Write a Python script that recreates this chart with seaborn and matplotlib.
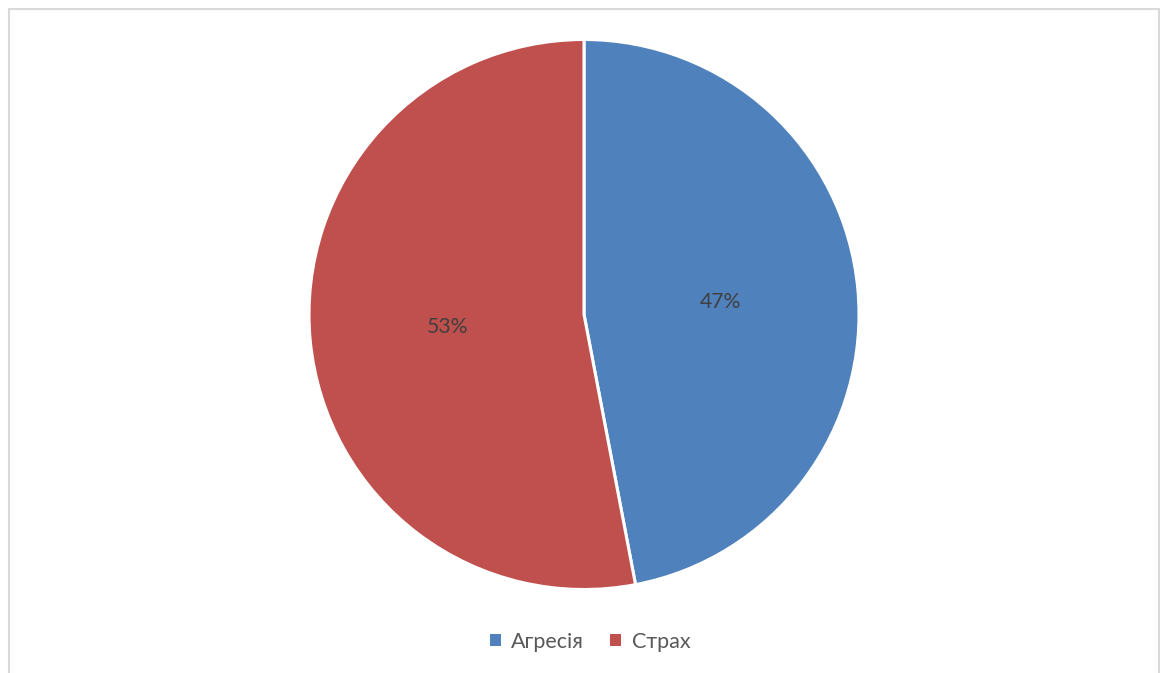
import matplotlib
matplotlib.use("Agg")
import matplotlib.pyplot as plt
import seaborn as sns
from matplotlib.patches import Rectangle, Patch

categories = ["Агресія", "Страх"]
values = [47, 53]
colors = ["#4F81BD", "#C0504D"]

sns.set_theme(style="white")
plt.rcParams['font.family'] = ['Lato', 'DejaVu Sans']

W, H = 1160, 673
fig = plt.figure(figsize=(W / 100, H / 100), dpi=100)
fig.patch.set_facecolor("white")

# outer light frame
fig.patches.append(Rectangle((8.5 / W, -0.1), (1158.5 - 8.5) / W, (H - 9.5) / H + 0.1,
                             transform=fig.transFigure, fill=False,
                             edgecolor="#d9d9d9", linewidth=1.5))

ax = fig.add_axes([309 / W, (H - 589.5) / H, 550 / W, 550 / H])
wedges, texts, autotexts = ax.pie(
    values, colors=colors, startangle=90, counterclock=False,
    autopct=lambda p: f"{p:.0f}%", pctdistance=0.5,
    wedgeprops=dict(edgecolor="white", linewidth=2.2),
    textprops=dict(color="#404040", fontsize=15.2))
ax.set_xlim(-1, 1)
ax.set_ylim(-1, 1)
ax.set_aspect("equal")
ax.axis("off")

handles = [Patch(facecolor=c, edgecolor="none") for c in colors]
fig.legend(handles, categories, loc="center", bbox_to_anchor=(590 / W, 1 - 642 / H),
           ncol=2, frameon=False, fontsize=15.5, handlelength=0.5, handleheight=0.5,
           handletextpad=0.5, columnspacing=1.2, labelcolor="#595959")

fig.savefig("out.png", dpi=100, facecolor="white")
